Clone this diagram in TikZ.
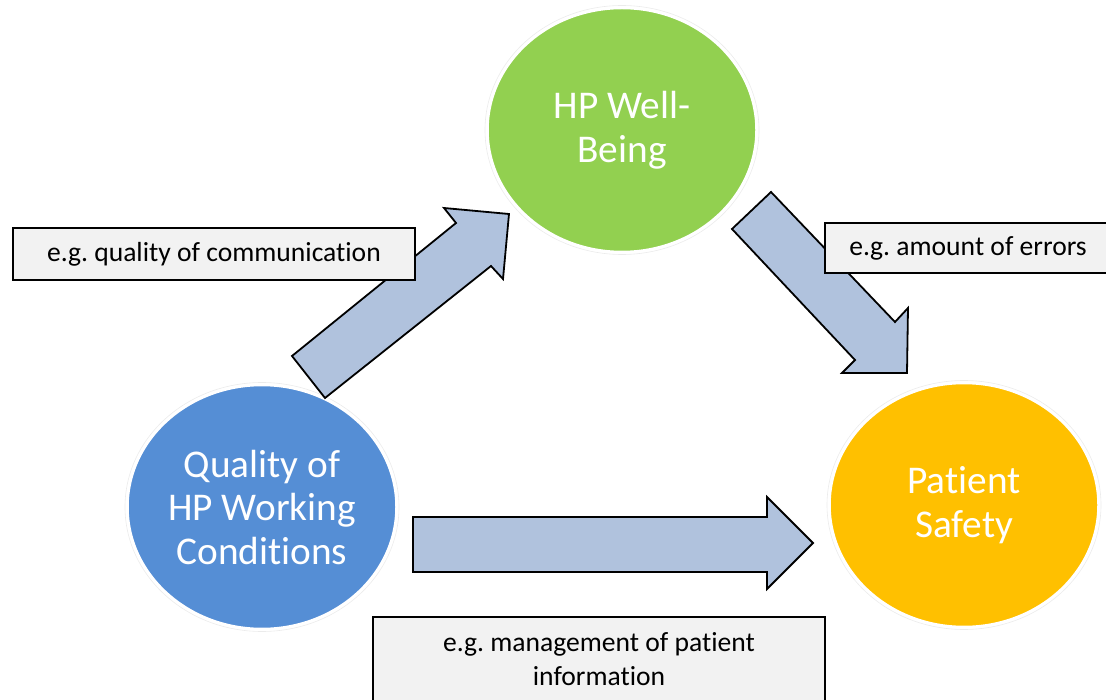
\documentclass[tikz,border=0pt]{standalone}
\usepackage{fontspec}
\setmainfont{Carlito}[Ligatures={NoCommon}]
\frenchspacing
\usetikzlibrary{shapes.geometric}
\definecolor{wellgreen}{HTML}{92D050}
\definecolor{workblue}{HTML}{558ED5}
\definecolor{safeyellow}{HTML}{FFC000}
\definecolor{arrowfill}{HTML}{B0C2DD}
\definecolor{notefill}{HTML}{F2F2F2}
\begin{document}
\begin{tikzpicture}[x=1pt,y=-1pt,
  halo/.style={ellipse, minimum width=274pt, minimum height=249pt, inner sep=0pt,
    draw=black!8, line width=0.6pt},
  topic/.style={ellipse, minimum width=269pt, minimum height=244pt, inner sep=0pt,
    draw=white, line width=2.5pt, text=white, align=center,
    font=\fontsize{39.3}{43.5}\selectfont},
  blockarrow/.style={fill=arrowfill, draw=black, line width=1.8pt, line join=miter},
  note/.style={rectangle, fill=notefill, draw=black, line width=2pt, inner sep=0pt,
    align=center, font=\fontsize{27.6}{34}\selectfont}
]
\useasboundingbox (0,0) rectangle (1106,700);
\clip (0,0) rectangle (1106,700);

% the three factors
\node[halo] (wellring) at (622,130) {};
\node[topic, fill=wellgreen] (well) at (622,130) {HP Well-\\Being};
\node[halo] (workring) at (262,507) {};
\node[topic, fill=workblue] (work) at (262,507) {Quality of\\HP Working\\Conditions};
\node[halo] (safering) at (964,505) {};
\node[topic, fill=safeyellow] (safe) at (964,505) {Patient\\Safety};

% block arrows between the factors
\draw[blockarrow] (292,356) -- (456,223) -- (444,208) -- (509,214)
  -- (503,279) -- (491,266) -- (325,398) -- cycle;
\draw[blockarrow] (771,192) -- (895,322) -- (908,308) -- (907,373)
  -- (842,373) -- (855,360) -- (732,229) -- cycle;
\draw[blockarrow] (413,517) -- (767,517) -- (767,497) -- (813,543)
  -- (767,589) -- (767,572) -- (413,572) -- cycle;

% example notes
\node[note, minimum width=402pt, minimum height=52pt] (commnote) at (214,254)
  {e.g. quality of communication};
\node[note, minimum width=286pt, minimum height=50pt] (errnote) at (968,248)
  {e.g. amount of errors};
\node[note, minimum width=452pt, minimum height=85pt] (infonote) at (599,659.5)
  {e.g. management of patient\\information};
\end{tikzpicture}
\end{document}
